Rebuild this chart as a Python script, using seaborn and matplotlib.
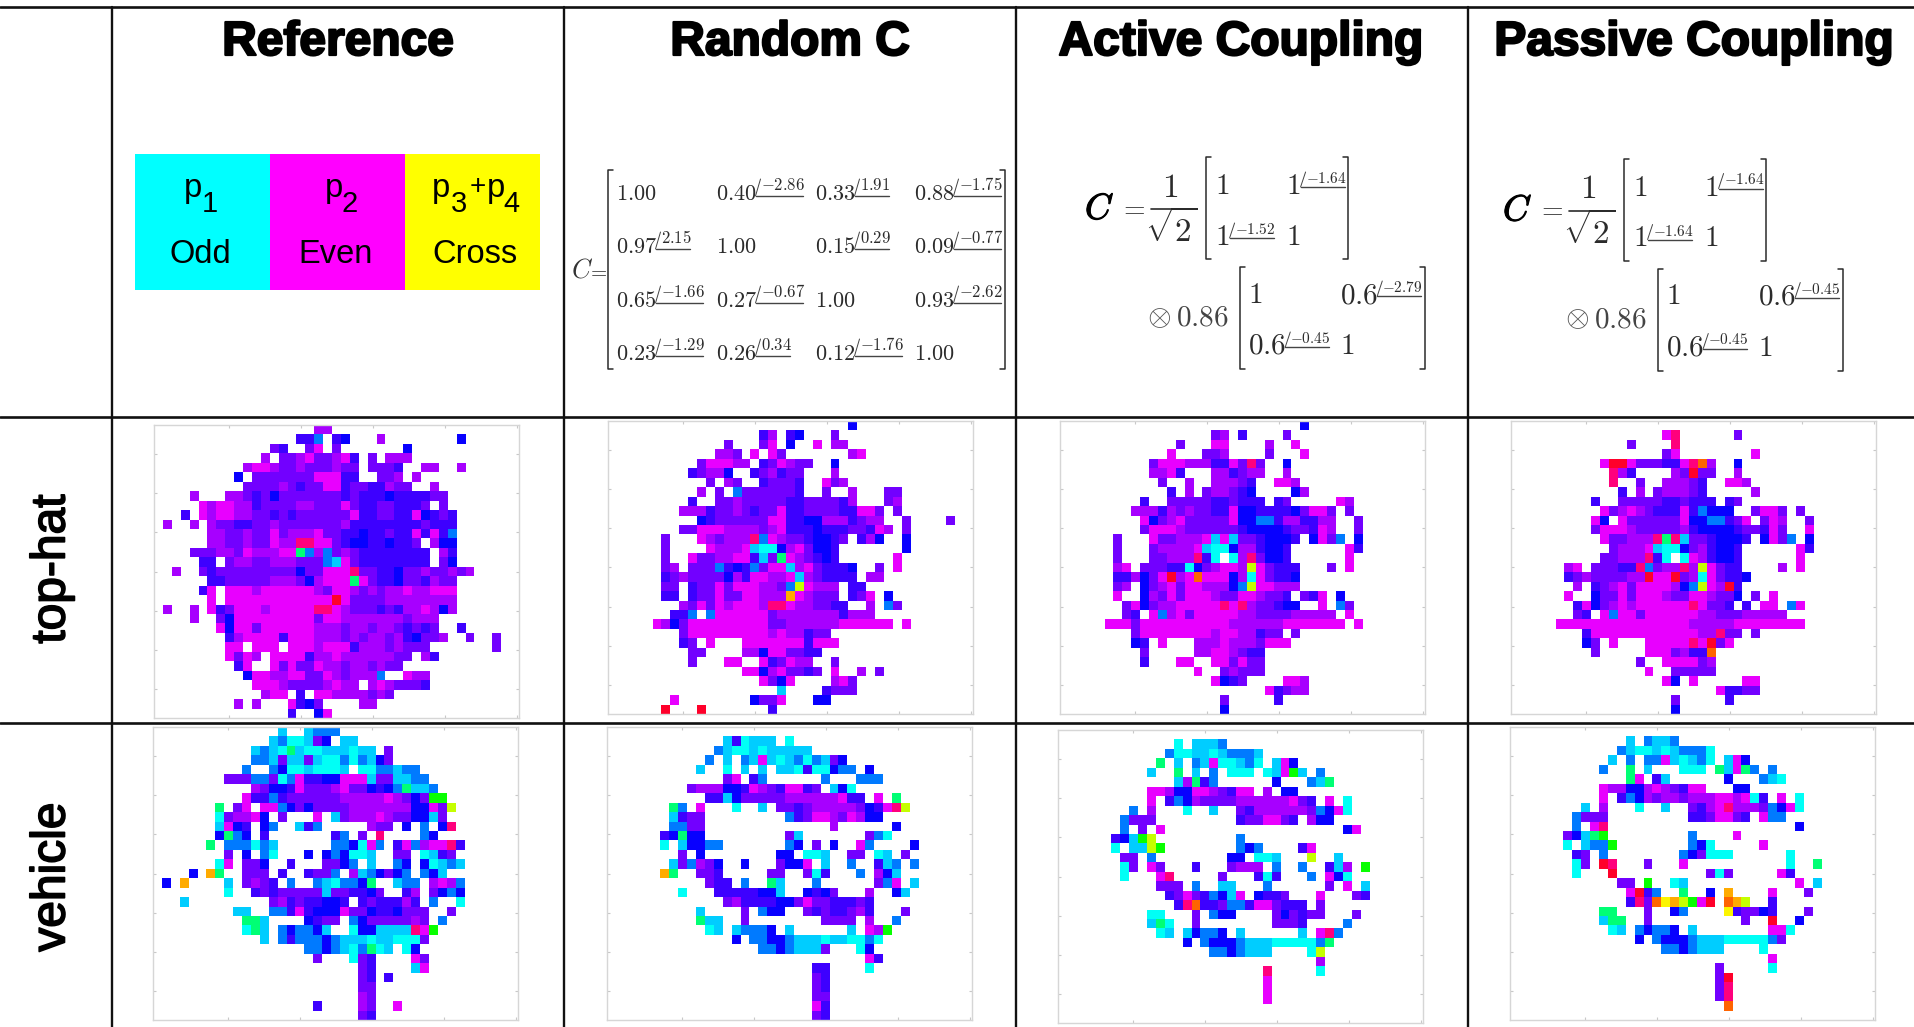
"""
Polarimetric panels table: header, coupling matrices and hue maps per target.
"""

import matplotlib
matplotlib.use("Agg")
import matplotlib.patheffects as pe
import matplotlib.pyplot as plt
import numpy as np
import seaborn as sns
from matplotlib.patches import Rectangle

N_ROWS = 31
N_COLS = 41

# hue in degrees for each letter of the maps, "." is an empty cell
HUE = {"R": 355, "a": 335, "m": 299, "p": 284, "v": 271, "i": 258, "b": 246,
       "d": 214, "s": 195, "c": 180, "g": 150, "L": 120, "y": 75, "Y": 60,
       "G": 42, "O": 25}

HEADERS = ["Reference", "Random C", "Active Coupling", "Passive Coupling"]
ROW_LABELS = ["top-hat", "vehicle"]
LEGEND_NAMES = ["Odd", "Even", "Cross"]
LEGEND_COLORS = ["#00ffff", "#ff00ff", "#ffff00"]

RANDOM_C = [
    [("1.00", None), ("0.40", "-2.86"), ("0.33", "1.91"), ("0.88", "-1.75")],
    [("0.97", "2.15"), ("1.00", None), ("0.15", "0.29"), ("0.09", "-0.77")],
    [("0.65", "-1.66"), ("0.27", "-0.67"), ("1.00", None), ("0.93", "-2.62")],
    [("0.23", "-1.29"), ("0.26", "0.34"), ("0.12", "-1.76"), ("1.00", None)],
]
ACTIVE_A = [[("1", None), ("1", "-1.64")], [("1", "-1.52"), ("1", None)]]
ACTIVE_B = [[("1", None), ("0.6", "-2.79")], [("0.6", "-0.45"), ("1", None)]]
PASSIVE_A = [[("1", None), ("1", "-1.64")], [("1", "-1.64"), ("1", None)]]
PASSIVE_B = [[("1", None), ("0.6", "-0.45")], [("0.6", "-0.45"), ("1", None)]]

XTICKS = [8.46, 16.55, 24.6, 32.7, 40.75]
YTICKS = [3.05, 7.2, 11.35, 15.5, 19.65, 23.8, 27.95]

TOPHAT_REFERENCE = [
    "..................pp",
    "................iid.ib...p........b",
    ".............vi..vm.v.......b",
    "............p.vvpmvvpmi.v.ppp",
    "..........pmmpvvpvvvpvv.vvvi..pp..p",
    ".........b.vvvvvvvmmmii..vvp.p",
    "..........vvvvpvivvmmivviipvv..p",
    "....p...ppvivbvvvvvvviviiibiiiivv",
    ".....mpmmppivvvvppvvvmviivviiiv.v",
    "...i.mpmmppvvivivvvvvvmiivviimbivi",
    ".p..p.pvviivvpvvvvvvvpiiiiiiiiviii",
    "......ppvvpvvmvpppmvviibiiviimimid",
    "......ppvvpvvmppaammvibbiibiiv.pbb",
    "....vvvppvmpppmmgdpdvpviiiiiiii.pi",
    ".....ii.vppvvpppvvvdsmviiiiiiii.vb",
    "..p..vivvvvvvvvvbvvmmmavviibvvpvvpvp",
    "......iivvvvvpppvbpmmmgmviibvvipvv",
    ".....im.mmmpmmmmmmpvmmpvpvppmppmmm",
    "......m.mmmmmmmmmmmmRmvvvvpppppppp",
    ".p..p.mivmmmpmmmmmaampvvvivippmpbp",
    "....p..vbmmmmmmmmmvmmpppppppvppp",
    ".......mbmmvmmmmmmpppvppvppviviv..i",
    "........ipmmmmimmmpppvpvppvpibvvp..v..v",
    "........mm.mmm.mmmpmmmipppvpvvv.......v",
    "........mvmp.mmmmippmppppppvv.pi",
    ".........im..mvmvvmppvppvpvv",
    "..........bmmppmmvvmpvpppd..mpp",
    "...........mmmpvvvvpmpp.pmpvvvi",
    "............pmm.i.mmppppvpv",
    ".........p.p...mibv....pp",
    "...............i..bm",
]
TOPHAT_RANDOM = [
    "...........................b",
    ".................ip.ib...v",
    ".............v...vm.b..m.pp",
    "............ppv.m.mv.......pm",
    "..........vmmmpp.ivmpvv..b",
    ".........ivppb..ivpivv...p",
    "...........v.pv..ivvvi..mvp",
    "..........p.v.dvvvvvvi..v..p...vv",
    ".........i..vvpvvvvviivvvvip...vp",
    "........pppivvpvivvmiivvvviimmv.v",
    "..........bivvvvvvmmiibbpppivpp..v....v",
    "........vvmmmppppvpmiiibiiivvimp.v",
    "......v...mpvpppadmpvvibbiv.ipb..b",
    "......v....mpppmsccbpmvbbi.......b",
    "......v..mvvppmmisvgmpvibi......m",
    "......vp.vvvdibidvmmspmviiib..v.m",
    "......ivpvvvvbpimmppmspviiii.pp",
    "......vv.ivvmvmmmppvdymppp.ii",
    "......ii.ivvmvvmmpppGmpvvv.ivm.b",
    "........pvmvmpmmmpaamppvvii..p.dv",
    ".......iid.dmmmmmmvpppppppippp",
    ".....mpbvmmmmmmmmmvvppppppmmmmmm.m",
    "........vmmmmmmmmmpmppivv",
    "........iv.m...mmmmmmmimmm",
    ".........vv....ppbmmvvii",
    ".........v...mm..mivmpp..v",
    "...............mmbpmvviv.m..p.v",
    ".................mvbm....pmv",
    "...................s....ivvv",
    ".......m........bvvm...bb",
    "......R...R.......i",
]
TOPHAT_ACTIVE = [
    "...........................b",
    ".................vp.i....v",
    ".............v...mm....p..m",
    "............m...vvp....v...m",
    "..........vmmmpppiimvav..b",
    "..........ppmi...ppivpp..p",
    "...........v..p..pppvi..mmp",
    "............i.p.vppvib....bp",
    ".........i..vvvvviiviii.iv.....mp",
    "........pppipvpvviimbbiiiibvmmv.v",
    ".........mbvpmvvvvvmbbddippiipp..v",
    ".........vmmmpvvvvvvibbbbivvimp..v",
    "......v...mvvpppmsmsvvibbbi.bmvd.b",
    "......v...vppppmsccbppibbi......mi",
    "......v...vvpppaic.cpavbbi......m",
    "......pm.vvviicbvpmmpymviii...v.m",
    "......iipbvmRpmOmmmbpcmviib",
    "......vp.bvpmvmmpppbdymmppp",
    "......m..bpvmvmmmpvvmmpvvi.vim.b",
    ".......vmbvppmmmmmamapvvibb..m.dv",
    ".......vi.mdpmvmmmmmppvvvvppppp.m",
    ".....mmmvmmmmmmmmmmppppppmmmmmmm.m",
    "........vmmmmmmmmpmmppivv.v",
    "........bi.m...pppmpppvmmm",
    ".........v.....ppmmpvii",
    ".........i...mm..mmvmvv",
    "...............m..vpvvv",
    ".................mbiv....mmp",
    ".......................mivpp",
    "..................v.....i",
    "..................b",
]
TOPHAT_PASSIVE = [
    "",
    ".................ma......v",
    ".............v....a",
    ".................vm........m",
    "..........mRRmvvviimaOp..b",
    "...........api....pvRvv..p",
    "...........a..v..pppvi..mmp",
    "............i.p.vpppvi.....p",
    ".........i..vvvvviiviii.iv",
    "..........mvpmpviiimidbbb..vmmv.v",
    ".........mb.mvvvvvvmbbddivm.vmp..v",
    ".........vmmmpvvvvvpibbbbivvimv..m",
    "..........mvvpppagasvvibbbi.bmvd.b",
    "...........vpppmsccbvpibbi......mi",
    "..........vvpppaic.cmpibbi......m",
    "......pm.vvviiadvppapymvii....p.m",
    "......ivpvvvvppRmmRvpcmviib",
    ".......p.ivpmvmmmmpbdympRi",
    "......m..bvvmvmmmpvvmmpvvb.v.m",
    ".......imbvpmpmmmmmmamvvi.i.mm.dm",
    ".......vi.mdmmvmmmmmmppvvvppppp",
    ".....mmmmmmmmmmmmmmmpppppmmmmmmmm",
    "........immmmmmmmmmmmppavv.v",
    "........bv.m...mmmmmamRvm",
    ".........v.....mmmvpiiO",
    "..............v..mmmmvp",
    "...............m..vvvvv",
    ".................mb.m.....mm",
    ".......................miivv",
    "..................v.....i",
    "..................b",
]
VEHICLE_REFERENCE = [
    "..............s..sddd",
    ".............sdccsvb.ss",
    "...........sdscgsccssscss.v",
    "...........ddsvssvsccdcdsbv",
    "..........d..dbccscccs.ccddsdd",
    "........vvvddvcdmiibbmmmsvvssdd",
    "...........pvbbimvvvpmvvbibdgssd",
    "..........miidivvvvvvpppppmpvbvLL",
    ".......g.vm.mmdbvbvvvvpppppppbbmvy",
    ".......cvppmb.v...m.svpppmpvvbbsv",
    ".......smbi.bd..sid.....pvv.b.d.ba",
    ".......bgdb.i.......id.v.a....db",
    "......g.dddcds......ddbcmd.imdpmmai",
    "........v.b.dc...b.bdbccs..vv.csiv",
    ".......cm.vvb..i...vvbd.s..db.bcsds",
    "....b.Gg..vvv.i..ivvd.psdbvbd.dbs",
    ".b.G....s.vpvi.d..dscddbg..sdd.pmpd",
    "........c..ivivvvvvsvviibv..ip.vbdb",
    "...s.........vpiviibbi.iviiipi.d..c",
    ".........ss..ddimibbbmvvbiibvvv..v",
    "..........ggs....bivv.dbvvvvvpv.d",
    "..........cgs.dbddbs..cbbssssamL",
    "............s.didddbdssscsscccv",
    ".................ddbdscdgcs.cb",
    "..................v...cvi....mv",
    ".......................vi....sm",
    ".......................vi.i",
    ".......................vv",
    ".......................pv",
    "..................i....pv..m",
    ".......................vi",
]
VEHICLE_RANDOM = [
    "",
    ".............sicsss.c",
    "............dsccscsssss",
    "...........d.s.dsmscsdcdsvb",
    "..........s..c.s.s.ssciccbdd.b",
    ".............vm.id......d...ddd",
    ".........vpppbbimpvimmiv.sbc",
    "...........iisbvvvvvppppppmii.m.g",
    ".......gd.m...c..s.vvivpppppvbimay",
    ".......sivv.........divmmpvmpbb",
    ".......ddvv..............p......b",
    "......ibgbb.........vs.......vdc",
    "......c.sbbdd.......db.v.b..md....b",
    "........v.b........bb.ccs..vv.cs.v",
    ".......svdpvb..b...vbbm.s..d..isd.d",
    "......Gg..vvi.....vv..vci...d.pbs",
    "...........vii.d..gs...d......vdm.s",
    "........c...iiiiibbs..bibv...p..bs",
    ".............vpiiiibbvmvviiivi",
    "..........s....v.dbb..viviivpi...v",
    "..........gss..v........vvvv.p..d",
    "...........cs.sdddb.s......s.mpL",
    "..............b.ddbbdssscssccdc",
    ".................ddbdsssv...cb",
    ".............................mi",
    ".......................ii....c",
    ".......................vi",
    ".......................vi",
    ".......................vv",
    ".......................mi",
    ".......................vi",
]
VEHICLE_ACTIVE = [
    "",
    ".............c.sssd",
    "............dccsscsddds",
    "...........g.s.dsmccsdc.smb",
    "..........s..g.s.d.ccc.csmLs.d",
    ".............spgid......b...dsg",
    "..........mmpbbmmpvimm.p.bb",
    "..........m.idbpvvvvppppppmvi.m.c",
    "........d.p...c..s..vippppppvdbmc",
    ".......dvvv.........ivvmmvi.pbb",
    ".......d.v.m....................bm",
    "......ibsLy.........d",
    "......c.ssyL........dbd....im",
    ".......vv.d........bb.ccs...y..s",
    ".......cv.mv...i...vppp.d..d..isp.L",
    ".......c...ma.....v...ici...d.mbc",
    "...........vvv.d..ss...d......v.m.s",
    "............ivmvidbsm.biiv...m...vi",
    ".............iaOiivddimmviii.v",
    "..........cc...v.dbb....vbvivv...v",
    "..........sgc..v........vvvi....d",
    "...........cs.sbddb.s......s.mad",
    "..............b.dbbbdssscccccdg",
    ".................ddbdsss....cy",
    ".............................p",
    ".......................a.....c",
    ".......................m",
    ".......................m",
    ".......................m",
    "",
    "",
]
VEHICLE_PASSIVE = [
    "",
    ".............s.dssd",
    "............dsccscsdddc",
    "...........s.d.ddmscsdc.smb",
    "..........d..g.s...ccc.gsmgd.d",
    ".............gm.is......b...dsc",
    "..........mppbbpmpvimm...bb",
    "..........m.idbpvppvpppmmpmci.m.c",
    "........s.p...c..s..vipmapppvdbmc",
    ".......dvvv.........iivmmvi.mdd",
    ".......d.ma.....................b",
    "......vbsgL.........d....m",
    "......c.sddL........dbc.....m",
    ".......iv.d........dbvccc......c",
    ".......cv.Ra...v...m...........c..g",
    ".......c...R..........vcv.....mi",
    "............vv.L..cs............m.s",
    ".............mRid..g..b.G....m...v",
    ".............iavOYGyLmR.OGy..i",
    "..........gg...v..bd....Yivvbi...v",
    "..........sgg..v..........v..R..b",
    "...........cs.dbddb.s........mmc",
    "..............b.dbbbdssscccccdv",
    ".................ddbdsss....c",
    ".............................m",
    ".......................v.....c",
    ".......................vR",
    ".......................va",
    ".......................va",
    "........................O",
    "",
]

# rows, left and top of each map in pixels
PANELS = [
    (TOPHAT_REFERENCE, 154, 425), (TOPHAT_RANDOM, 608, 421),
    (TOPHAT_ACTIVE, 1060, 421), (TOPHAT_PASSIVE, 1511, 421),
    (VEHICLE_REFERENCE, 153, 727), (VEHICLE_RANDOM, 607, 727),
    (VEHICLE_ACTIVE, 1058, 730), (VEHICLE_PASSIVE, 1510, 727),
]

FIG_W, FIG_H = 1915, 1027
INK = "#2b2b2b"


def rows_to_hue(rows):
    grid = np.full((N_ROWS, N_COLS), np.nan)
    for r, row in enumerate(rows):
        for c, ch in enumerate(row):
            if ch != ".":
                grid[r, c] = HUE[ch]
    return grid


def draw_map(fig, rows, left, top, width=365, height=293):
    ax = fig.add_axes([left / FIG_W, 1 - (top + height) / FIG_H, width / FIG_W, height / FIG_H])
    sns.heatmap(rows_to_hue(rows), cmap="hsv", vmin=0, vmax=360, cbar=False, ax=ax)
    ax.set_xticks(XTICKS)
    ax.set_yticks(YTICKS)
    ax.set_xticklabels([])
    ax.set_yticklabels([])
    ax.tick_params(direction="in", length=2.5, width=0.8, color="#c8c8c8",
                   top=True, right=True, bottom=True, left=True)
    for spine in ax.spines.values():
        spine.set_visible(True)
        spine.set_color("#d6d6d6")
        spine.set_linewidth(1.0)


def text_width(s, em):
    return sum({".": 0.278, "-": 0.778}.get(ch, 0.5) for ch in s) * em


def phasor(ax, x, y, entry, size, sup_size, sup_up, line_up):
    base, angle = entry
    ax.text(x, y, f"${base}$", fontsize=size, color=INK, va="baseline", ha="left")
    if angle is None:
        return
    x0 = x + text_width(base, size * 100 / 72)
    w = text_width(angle, sup_size * 100 / 72) + 5
    ax.text(x0 + 5, y - sup_up, f"${angle}$", fontsize=sup_size, color=INK, va="baseline", ha="left")
    ax.plot([x0, x0 + w], [y - line_up, y - line_up], color="#444444", lw=1.0)
    ax.plot([x0, x0 + 5], [y - line_up, y - sup_up - 11], color="#444444", lw=0.7)


def bracket(ax, x0, x1, y0, y1, tick=5):
    ax.plot([x0 + tick, x0, x0, x0 + tick], [y0, y0, y1, y1], color=INK, lw=1.1)
    ax.plot([x1 - tick, x1, x1, x1 - tick], [y0, y0, y1, y1], color=INK, lw=1.1)


def matrix(ax, entries, xs, ys, size, sup_size, sup_up, line_up):
    for row, y in zip(entries, ys):
        for entry, x in zip(row, xs):
            phasor(ax, x, y, entry, size, sup_size, sup_up, line_up)


def coupling(ax, first, second, dx, dy):
    ax.text(1085 + dx, 219 + dy, "$C$", fontsize=26, color="black", va="baseline",
            path_effects=[pe.withStroke(linewidth=0.8, foreground="black")])
    ax.text(1119 + dx, 216 + dy, "$=$", fontsize=20, color=INK, va="baseline")
    ax.plot([1151 + dx, 1190 + dx], [209 + dy, 209 + dy], color=INK, lw=1.2)
    ax.text(1170 + dx, 197 + dy, "$1$", fontsize=24, color=INK, ha="center", va="baseline")
    ax.text(1171 + dx, 242 + dy, r"$\sqrt{2}$", fontsize=24, color=INK, ha="center", va="baseline")
    bracket(ax, 1206 + dx, 1348 + dx, 157 + dy, 259 + dy)
    matrix(ax, first, [1215 + dx, 1286 + dx], [194 + dy, 245 + dy], 21, 11, 11, 7)
    ax.text(1159 + dx, 325 + dy, r"$\otimes$", fontsize=22, color="#555555", ha="center", va="baseline")
    ax.text(1176 + dx, 326 + dy, "$0.86$", fontsize=21, color="#444444", va="baseline")
    bracket(ax, 1240 + dx, 1425 + dx, 267 + dy, 369 + dy)
    matrix(ax, second, [1248 + dx, 1340 + dx], [303 + dy, 354 + dy], 21, 11, 11, 7)


def draw_table(ax):
    for y in [7, 416.5, 723]:
        ax.plot([0, FIG_W], [y, y], color="#111111", lw=1.9)
    for x in [112.5, 564.5, 1016, 1468]:
        ax.plot([x, x], [7, FIG_H], color="#111111", lw=1.7)

    heavy = [pe.withStroke(linewidth=1.6, foreground="black")]
    for name, x in zip(HEADERS, [338, 790, 1241, 1694]):
        ax.text(x, 55, name, fontsize=34.5, fontweight="bold", ha="center", va="baseline",
                color="black", path_effects=heavy)
    for name, y in zip(ROW_LABELS, [569, 877]):
        ax.text(52, y, name, fontsize=34.5, rotation=90, ha="center", va="center", color="black",
                path_effects=[pe.withStroke(linewidth=1.2, foreground="black")])


def draw_legend(ax):
    edges = [134.7, 270, 405.3, 540]
    for i, (name, color) in enumerate(zip(LEGEND_NAMES, LEGEND_COLORS)):
        ax.add_patch(Rectangle((edges[i], 154.3), edges[i + 1] - edges[i], 135.7, color=color, lw=0))
        ax.text([200, 336, 475][i], 263, name, fontsize=23.5, ha="center", va="baseline", color="black")
    for x, s in [(193, "p"), (334, "p"), (441, "p"), (496, "p")]:
        ax.text(x, 197, s, fontsize=23.5, ha="center", va="baseline", color="black")
    for x, s in [(209.5, "1"), (350, "2"), (459, "3"), (511, "4")]:
        ax.text(x, 212, s, fontsize=21, ha="center", va="baseline", color="black")
    ax.text(478, 194, "+", fontsize=20, ha="center", va="baseline", color="black")


def main():
    sns.set_theme(style="white")
    plt.rcParams["font.family"] = ["Liberation Sans", "DejaVu Sans"]
    plt.rcParams["mathtext.fontset"] = "cm"

    fig = plt.figure(figsize=(FIG_W / 100, FIG_H / 100), dpi=100, facecolor="white")
    ax = fig.add_axes([0, 0, 1, 1])
    ax.set_xlim(0, FIG_W)
    ax.set_ylim(FIG_H, 0)
    ax.axis("off")

    draw_table(ax)
    draw_legend(ax)

    ax.text(571, 277, "$C$", fontsize=19, color="#333333", va="baseline")
    ax.text(587, 277, "$=$", fontsize=15, color="#333333", va="baseline")
    bracket(ax, 608, 1005, 170, 369)
    matrix(ax, RANDOM_C, [616, 716, 815, 914], [200, 253, 307, 360], 16, 12, 10, 4)

    coupling(ax, ACTIVE_A, ACTIVE_B, 0, 0)
    coupling(ax, PASSIVE_A, PASSIVE_B, 418, 1.5)

    for rows, left, top in PANELS:
        draw_map(fig, rows, left, top)

    fig.savefig("out.png", dpi=100)
    plt.close(fig)


if __name__ == "__main__":
    main()
